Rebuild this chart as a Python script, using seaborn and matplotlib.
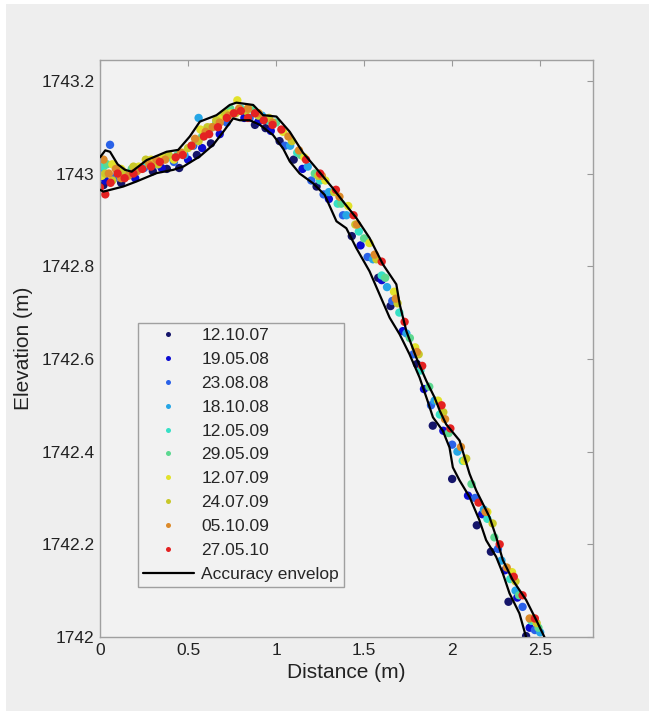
import numpy as np
import pandas as pd
import matplotlib
matplotlib.use("Agg")
import matplotlib.pyplot as plt
import seaborn as sns
from matplotlib.patches import Rectangle

# Survey dates and colours (jet-like)
dates = ["12.10.07", "19.05.08", "23.08.08", "18.10.08", "12.05.09",
         "29.05.09", "12.07.09", "24.07.09", "05.10.09", "27.05.10"]
colors = ["#15156a", "#0c0cd2", "#2a62e8", "#26a6e6", "#36e0c6",
          "#5cd890", "#e2e22a", "#c8c82a", "#dc8a2a", "#e42222"]

# Profile points per survey (distance m, elevation m)
x1 = [0.02, 0.12, 0.30, 0.38, 0.45, 0.55, 0.63, 0.88, 0.94, 1.02, 1.10, 1.23, 1.43, 1.58, 1.65, 1.80, 1.89, 2.00, 2.14, 2.22, 2.32, 2.42]
y1 = [1742.975, 1742.98, 1743.005, 1743.01, 1743.012, 1743.04, 1743.065, 1743.105, 1743.098, 1743.07, 1743.03, 1742.972, 1742.865, 1742.775, 1742.714, 1742.589, 1742.456, 1742.341, 1742.241, 1742.184, 1742.076, 1742.002]
x2 = [0.03, 0.20, 0.35, 0.50, 0.58, 0.68, 0.82, 0.90, 0.97, 1.15, 1.30, 1.48, 1.60, 1.72, 1.84, 1.95, 2.09, 2.17, 2.30, 2.37, 2.44]
y2 = [1742.985, 1742.99, 1743.012, 1743.03, 1743.055, 1743.085, 1743.12, 1743.112, 1743.092, 1743.01, 1742.945, 1742.845, 1742.77, 1742.66, 1742.535, 1742.445, 1742.305, 1742.265, 1742.144, 1742.085, 1742.02]
x3 = [0.057, 0.08, 0.25, 0.42, 0.53, 0.60, 0.72, 0.85, 1.05, 1.20, 1.27, 1.38, 1.52, 1.66, 1.78, 1.88, 2.00, 2.13, 2.26, 2.40, 2.47]
y3 = [1743.062, 1742.99, 1743.012, 1743.025, 1743.06, 1743.09, 1743.11, 1743.12, 1743.06, 1742.985, 1742.955, 1742.91, 1742.82, 1742.725, 1742.61, 1742.5, 1742.415, 1742.30, 1742.19, 1742.065, 1742.015]
x4 = [0.00, 0.15, 0.32, 0.48, 0.56, 0.66, 0.76, 0.92, 1.08, 1.18, 1.30, 1.40, 1.55, 1.63, 1.74, 1.90, 2.03, 2.18, 2.28, 2.36, 2.50]
y4 = [1743.01, 1742.995, 1743.02, 1743.04, 1743.12, 1743.105, 1743.13, 1743.125, 1743.06, 1743.015, 1742.96, 1742.91, 1742.815, 1742.755, 1742.655, 1742.51, 1742.40, 1742.275, 1742.165, 1742.10, 1742.01]
x5 = [0.02, 0.10, 0.27, 0.40, 0.52, 0.62, 0.70, 0.80, 0.95, 1.12, 1.25, 1.35, 1.47, 1.60, 1.70, 1.82, 1.93, 2.06, 2.20, 2.33, 2.45]
y5 = [1743.015, 1743.0, 1743.02, 1743.035, 1743.06, 1743.095, 1743.125, 1743.14, 1743.115, 1743.045, 1742.985, 1742.935, 1742.875, 1742.78, 1742.70, 1742.575, 1742.48, 1742.38, 1742.255, 1742.125, 1742.035]
x6 = [0.04, 0.18, 0.30, 0.44, 0.58, 0.66, 0.74, 0.86, 1.00, 1.14, 1.22, 1.37, 1.50, 1.62, 1.76, 1.87, 1.98, 2.11, 2.24, 2.38, 2.49]
y6 = [1743.02, 1743.01, 1743.025, 1743.04, 1743.08, 1743.11, 1743.14, 1743.14, 1743.11, 1743.04, 1743.0, 1742.935, 1742.86, 1742.775, 1742.645, 1742.54, 1742.44, 1742.33, 1742.215, 1742.09, 1742.02]
x7 = [0.01, 0.07, 0.12, 0.22, 0.29, 0.36, 0.42, 0.47, 0.52, 0.57, 0.63, 0.69, 0.74, 0.78, 0.84, 0.90, 1.04, 1.16, 1.28, 1.41, 1.53, 1.67, 1.79, 1.92, 2.07, 2.20, 2.34, 2.46]
y7 = [1742.995, 1743.02, 1743.01, 1743.015, 1743.03, 1743.035, 1743.03, 1743.045, 1743.06, 1743.095, 1743.10, 1743.12, 1743.13, 1743.158, 1743.14, 1743.13, 1743.09, 1743.035, 1742.985, 1742.93, 1742.85, 1742.745, 1742.625, 1742.51, 1742.38, 1742.27, 1742.14, 1742.04]
x8 = [0.03, 0.07, 0.13, 0.19, 0.26, 0.33, 0.39, 0.50, 0.56, 0.61, 0.66, 0.71, 0.77, 0.83, 0.90, 0.96, 1.09, 1.24, 1.33, 1.45, 1.57, 1.69, 1.81, 1.95, 2.08, 2.23, 2.36, 2.48]
y8 = [1743.0, 1742.985, 1743.005, 1743.015, 1743.03, 1743.02, 1743.04, 1743.055, 1743.07, 1743.10, 1743.115, 1743.13, 1743.13, 1743.135, 1743.125, 1743.12, 1743.07, 1742.995, 1742.96, 1742.89, 1742.815, 1742.72, 1742.61, 1742.485, 1742.385, 1742.245, 1742.12, 1742.03]
x9 = [0.02, 0.05, 0.09, 0.12, 0.16, 0.21, 0.28, 0.32, 0.37, 0.46, 0.54, 0.60, 0.64, 0.68, 0.73, 0.79, 0.84, 0.90, 0.98, 1.07, 1.13, 1.26, 1.36, 1.46, 1.56, 1.68, 1.80, 1.96, 2.05, 2.19, 2.31, 2.44]
y9 = [1743.03, 1743.0, 1743.01, 1742.99, 1742.995, 1743.005, 1743.02, 1743.03, 1743.03, 1743.045, 1743.075, 1743.09, 1743.10, 1743.11, 1743.125, 1743.14, 1743.14, 1743.13, 1743.11, 1743.08, 1743.05, 1742.995, 1742.95, 1742.89, 1742.825, 1742.73, 1742.615, 1742.47, 1742.41, 1742.27, 1742.15, 1742.04]
x10 = [0.0, 0.03, 0.06, 0.10, 0.14, 0.19, 0.24, 0.29, 0.34, 0.43, 0.47, 0.52, 0.59, 0.62, 0.67, 0.72, 0.76, 0.80, 0.84, 0.88, 0.93, 0.98, 1.03, 1.17, 1.25, 1.34, 1.44, 1.60, 1.73, 1.83, 1.94, 1.99, 2.15, 2.27, 2.35, 2.40, 2.47]
y10 = [1742.97, 1742.955, 1742.98, 1743.0, 1742.99, 1743.0, 1743.01, 1743.015, 1743.025, 1743.035, 1743.04, 1743.06, 1743.08, 1743.085, 1743.10, 1743.12, 1743.13, 1743.135, 1743.12, 1743.13, 1743.115, 1743.105, 1743.095, 1743.03, 1743.0, 1742.965, 1742.91, 1742.81, 1742.68, 1742.585, 1742.5, 1742.45, 1742.29, 1742.2, 1742.13, 1742.09, 1742.04]

# Accuracy envelope (upper and lower limits)
env_up_x = [0.0, 0.03, 0.057, 0.10, 0.142, 0.18, 0.265, 0.378, 0.444, 0.51, 0.567, 0.662, 0.737, 0.775, 0.87, 0.926, 1.002, 1.078, 1.153, 1.229, 1.323, 1.38, 1.456, 1.531, 1.607, 1.683, 1.702, 1.74, 1.796, 1.853, 1.90, 1.93, 1.966, 2.042, 2.099, 2.137, 2.212, 2.25, 2.288, 2.344, 2.42, 2.477, 2.524]
env_up_y = [1743.035, 1743.05, 1743.047, 1743.02, 1743.008, 1743.004, 1743.029, 1743.047, 1743.051, 1743.08, 1743.112, 1743.126, 1743.148, 1743.153, 1743.148, 1743.126, 1743.123, 1743.09, 1743.045, 1743.011, 1742.968, 1742.94, 1742.904, 1742.861, 1742.804, 1742.761, 1742.718, 1742.66, 1742.603, 1742.553, 1742.517, 1742.488, 1742.459, 1742.424, 1742.352, 1742.316, 1742.259, 1742.216, 1742.166, 1742.123, 1742.08, 1742.037, 1742.0]
env_lo_x = [0.0, 0.019, 0.132, 0.208, 0.322, 0.416, 0.473, 0.567, 0.643, 0.70, 0.756, 0.794, 0.851, 0.908, 0.983, 1.04, 1.078, 1.134, 1.21, 1.276, 1.343, 1.399, 1.456, 1.531, 1.588, 1.645, 1.702, 1.758, 1.815, 1.86, 1.891, 1.947, 1.985, 2.004, 2.042, 2.099, 2.155, 2.193, 2.25, 2.288, 2.326, 2.382, 2.42]
env_lo_y = [1742.965, 1742.961, 1742.972, 1742.983, 1743.001, 1743.008, 1743.015, 1743.037, 1743.062, 1743.09, 1743.119, 1743.115, 1743.115, 1743.105, 1743.083, 1743.054, 1743.026, 1743.0, 1742.979, 1742.954, 1742.897, 1742.882, 1742.839, 1742.789, 1742.739, 1742.689, 1742.653, 1742.61, 1742.56, 1742.51, 1742.474, 1742.445, 1742.409, 1742.366, 1742.338, 1742.302, 1742.252, 1742.209, 1742.173, 1742.137, 1742.094, 1742.051, 1742.0]

xticks = [0, 0.5, 1, 1.5, 2, 2.5]
xtick_labels = ["0", "0.5", "1", "1.5", "2", "2.5"]
yticks = [1742.0, 1742.2, 1742.4, 1742.6, 1742.8, 1743.0, 1743.2]
ytick_labels = ["1742", "1742.2", "1742.4", "1742.6", "1742.8", "1743", "1743.2"]

xs = [x1, x2, x3, x4, x5, x6, x7, x8, x9, x10]
ys = [y1, y2, y3, y4, y5, y6, y7, y8, y9, y10]
df = pd.concat([pd.DataFrame({"Distance": x, "Elevation": y, "Date": d})
                for x, y, d in zip(xs, ys, dates)], ignore_index=True)

sns.set_style("white")
plt.rcParams["font.family"] = ["Liberation Sans", "DejaVu Sans"]

fig = plt.figure(figsize=(6.49, 7.11), dpi=100)
fig.patch.set_facecolor("white")
fig.patches.append(Rectangle((6 / 649, 0), 1, 1 - 4 / 711, transform=fig.transFigure,
                             facecolor="#eeeeee", edgecolor="none", zorder=-10))
ax = fig.add_axes([100 / 649, 1 - 637 / 711, 493 / 649, 577 / 711])
ax.set_facecolor("#f2f2f2")

sns.scatterplot(data=df, x="Distance", y="Elevation", hue="Date", hue_order=dates,
                palette=colors, s=36, linewidth=0, ax=ax, zorder=2)
ax.plot(env_up_x, env_up_y, color="black", lw=1.6, zorder=3, label="Accuracy envelop")
ax.plot(env_lo_x, env_lo_y, color="black", lw=1.6, zorder=3)

ax.set_xlim(0, 2.8)
ax.set_ylim(1742.0, 1743.245)
ax.set_xticks(xticks)
ax.set_xticklabels(xtick_labels)
ax.set_yticks(yticks)
ax.set_yticklabels(ytick_labels)
ax.tick_params(direction="in", length=4, width=0.8, color="#999999", top=True, right=True,
               labelsize=12.5, labelcolor="#222222", pad=4)
for sp in ax.spines.values():
    sp.set_color("#a0a0a0")
    sp.set_linewidth(1.0)

ax.set_xlabel("Distance (m)", fontsize=15, color="#222222", labelpad=4)
ax.set_ylabel("Elevation (m)", fontsize=15, color="#222222", labelpad=6)

handles, labels = ax.get_legend_handles_labels()
leg = ax.legend(handles, labels, loc="lower left", bbox_to_anchor=(0.077, 0.087),
                fontsize=12.5, markerscale=0.6, labelspacing=0.5, handlelength=2.9,
                handletextpad=0.45, borderpad=0.3, borderaxespad=0, frameon=True,
                fancybox=False, framealpha=1)
leg.get_frame().set_facecolor("#f2f2f2")
leg.get_frame().set_edgecolor("#a0a0a0")
leg.get_frame().set_linewidth(1.0)

fig.savefig("out.png", dpi=100)
